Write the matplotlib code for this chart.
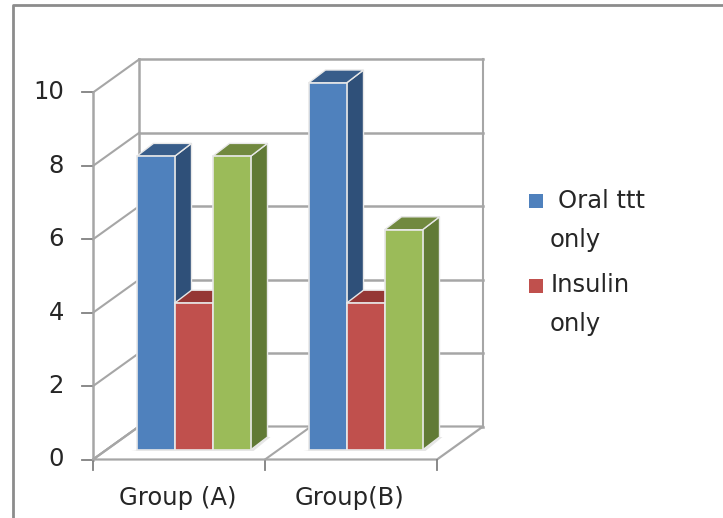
import matplotlib
matplotlib.use('Agg')
import matplotlib.pyplot as plt
from matplotlib.patches import Polygon, Rectangle

plt.rcParams['font.family'] = ['DejaVu Sans']

groups = ['Group (A)', 'Group(B)']
oral = [8, 10]
insulin = [4, 4]
third = [8, 6]
series = [oral, insulin, third]
legend_lines = ['Oral ttt', 'only', 'Insulin', 'only']
yticks = [0, 2, 4, 6, 8, 10]

# front, side and top colours for each series
front_col = ['#4f81bd', '#c0504d', '#9bbb59']
side_col = ['#2f5079', '#7d2f2d', '#617a36']
top_col = ['#385d8a', '#953735', '#71893f']
grid_col = '#a6a6a6'
text_col = '#262626'
font_size = 17.5

W, H = 723, 518
# one category is 172px wide, one y unit is 36.7px tall on the front plane
CAT_PX, VAL_PX = 172.0, 36.7
X0, Y0 = 93.0, 459.5
# floor depth
DX, DY = 46 / CAT_PX, 33 / VAL_PX
# where the bars stand on the floor and how deep they are
BAR_SHIFT_X, BAR_SHIFT_Y = 13 / CAT_PX, 9.5 / VAL_PX
BAR_DX, BAR_DY = 17 / CAT_PX, 13 / VAL_PX
BAR_W = 38 / CAT_PX
BAR_START = 30.5 / CAT_PX

fig = plt.figure(figsize=(W / 100, H / 100), dpi=100)
ax = fig.add_axes([0, 0, 1, 1])
ax.set_xlim(-X0 / CAT_PX, (W - X0) / CAT_PX)
ax.set_ylim((Y0 - H) / VAL_PX, Y0 / VAL_PX)
ax.axis('off')

n_cat = len(groups)

# outer frame of the chart area
fig.add_artist(plt.Line2D([13 / W, 13 / W, 1], [0, 1 - 5 / H, 1 - 5 / H],
                          color='#8c8c8c', lw=2))

# back wall gridlines and the side wall diagonals
for v in yticks:
    ax.plot([DX, n_cat + DX], [v + DY, v + DY], color=grid_col, lw=1.8, zorder=1)
    ax.plot([0, DX], [v, v + DY], color=grid_col, lw=1.5, zorder=1)
    ax.plot([-11 / CAT_PX, 0], [v, v], color='#808080', lw=1.3, zorder=2)
    ax.text(-29 / CAT_PX, v, str(v), ha='right', va='center', fontsize=font_size,
            color=text_col)

ax.plot([0, 0], [0, yticks[-1]], color=grid_col, lw=1.8, zorder=2)
ax.plot([DX, DX], [DY, yticks[-1] + DY], color=grid_col, lw=1.8, zorder=1)
ax.plot([n_cat + DX, n_cat + DX], [DY, yticks[-1] + DY], color=grid_col, lw=1.5, zorder=1)

# floor
ax.add_patch(Polygon([(0, 0), (n_cat, 0), (n_cat + DX, DY), (DX, DY)],
                     closed=True, facecolor='white', edgecolor='none', zorder=1.5))
ax.plot([DX, n_cat + DX, n_cat, 0, DX], [DY, DY, 0, 0, DY], color=grid_col, lw=1.6, zorder=2)
for i in range(n_cat + 1):
    ax.plot([i, i], [0, -10 / VAL_PX], color='#808080', lw=1.3, zorder=2)
    if i < n_cat:
        ax.plot([i, i + DX], [0, DY], color=grid_col, lw=1.5, zorder=2)
for i, g in enumerate(groups):
    ax.text(i + 0.49, -39 / VAL_PX, g, ha='center', va='center', fontsize=font_size,
            color=text_col)

# bars, drawn from the back faces to the front so neighbours overlap properly
for c in range(n_cat):
    # soft shadow on the floor behind each group
    sx0 = c + BAR_START + BAR_SHIFT_X
    sx1 = sx0 + len(series) * BAR_W
    ax.add_patch(Polygon([(sx0 - 5 / CAT_PX, BAR_SHIFT_Y - 1 / VAL_PX),
                          (sx1 + 3 / CAT_PX, BAR_SHIFT_Y - 1 / VAL_PX),
                          (sx1 + BAR_DX + 3 / CAT_PX, BAR_SHIFT_Y + BAR_DY),
                          (sx1, BAR_SHIFT_Y + BAR_DY)],
                         closed=True, facecolor='#e6e6e6', edgecolor='none', zorder=2.5))
    for s, vals in enumerate(series):
        v = vals[c]
        x0 = c + BAR_START + s * BAR_W + BAR_SHIFT_X
        x1 = x0 + BAR_W
        y0 = BAR_SHIFT_Y
        y1 = y0 + v
        side = [(x1, y0), (x1 + BAR_DX, y0 + BAR_DY), (x1 + BAR_DX, y1 + BAR_DY), (x1, y1)]
        top = [(x0, y1), (x0 + BAR_DX, y1 + BAR_DY), (x1 + BAR_DX, y1 + BAR_DY), (x1, y1)]
        z = 3 + s * 0.1
        ax.add_patch(Polygon(side, closed=True, facecolor=side_col[s], edgecolor='#e8e8e8', lw=1, zorder=z))
        ax.add_patch(Polygon(top, closed=True, facecolor=top_col[s], edgecolor='#e8e8e8', lw=1, zorder=z))
        ax.add_patch(Rectangle((x0, y0), BAR_W, v, facecolor=front_col[s], edgecolor='#e8e8e8',
                               lw=1.2, zorder=z + 0.01))

# legend, placed by hand because the labels wrap onto two lines
square_y = [201, 286]
for k in range(2):
    fig.add_artist(Rectangle((529 / W, 1 - (square_y[k] + 7) / H), 14 / W, 14 / H,
                             transform=fig.transFigure, facecolor=front_col[k], edgecolor='none'))
label_x = [558, 550, 551, 550]
label_y = [201, 240, 285, 324]
for txt, lx, ly in zip(legend_lines, label_x, label_y):
    fig.text(lx / W, 1 - ly / H, txt, ha='left', va='center', fontsize=font_size, color=text_col)

fig.savefig('out.png', dpi=100)
